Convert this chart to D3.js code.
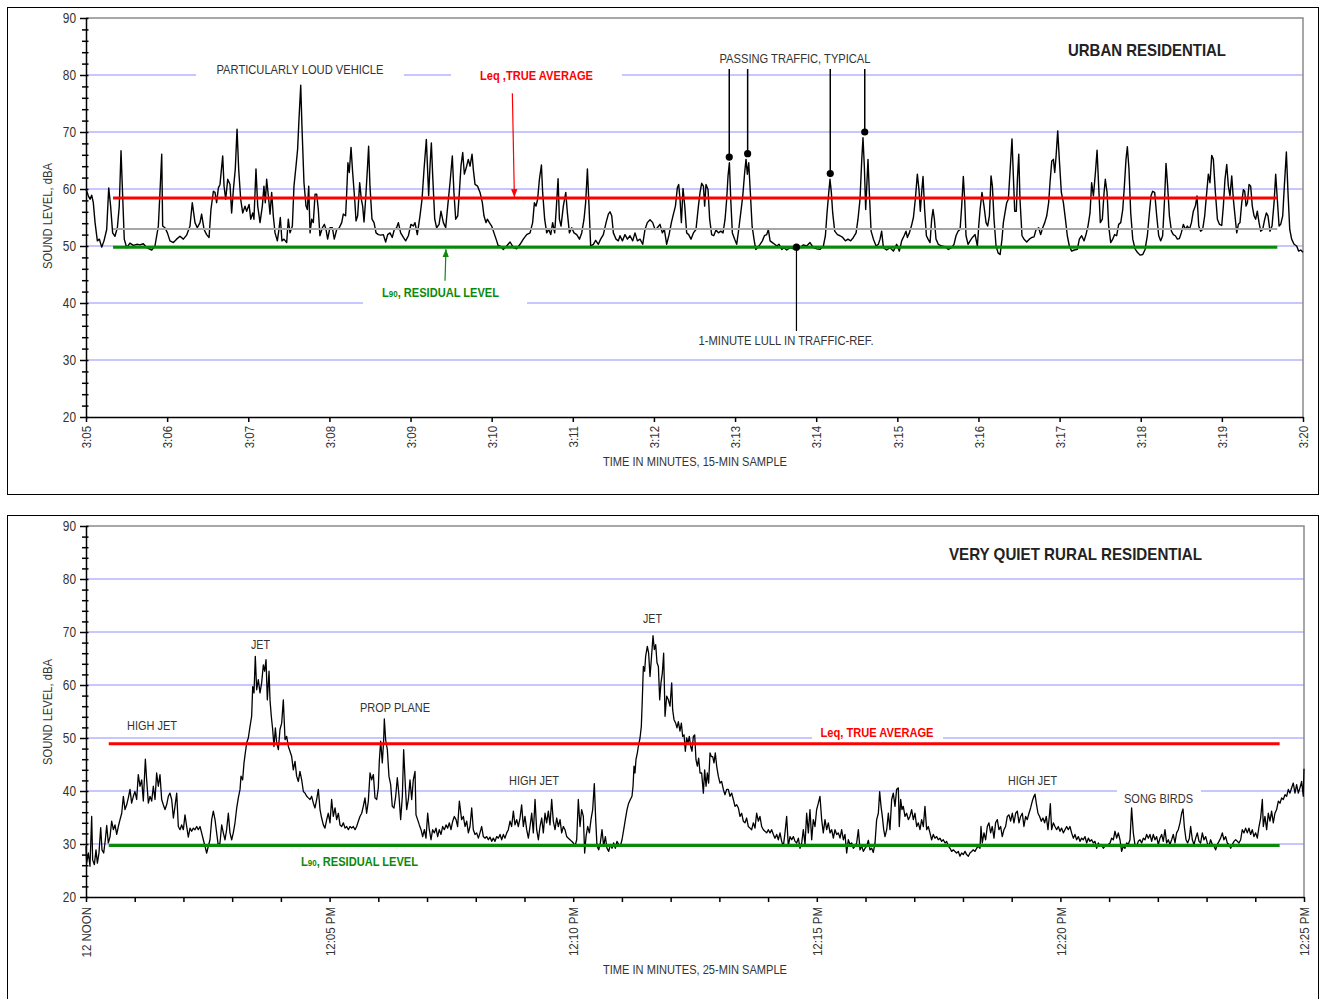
<!DOCTYPE html>
<html><head><meta charset="utf-8">
<script src="https://cdn.jsdelivr.net/npm/d3@7"></script>
<style>
body{margin:0;background:#fff;}
svg{display:block;font-family:"Liberation Sans",Arial,sans-serif;}
</style></head><body>
<svg id="chart" width="1325" height="999"></svg>
<script>
// ---------- DATA (time in seconds from start, level in dBA) ----------
const urbanTrace = [[0,60],[1.7,58.8],[3,58.2],[4.2,58.9],[5.4,57.6],[6.7,54.1],[8.4,50.9],[9.9,51.2],[11.6,49.8],[13.3,50.9],[15.3,52.9],[16.8,60.2],[18.2,57],[19.7,52.3],[21.4,51.7],[23.2,53.2],[24.6,57],[25.9,66.7],[27.1,58.8],[28.3,51.2],[30.1,49.7],[32.5,50.5],[35,50.1],[37.5,50.3],[39.9,50.2],[42.4,50.4],[44.9,49.7],[48.6,49.3],[51,50],[53.5,53.5],[54.7,59.4],[56,66.1],[56.7,53.5],[58.4,53.2],[60.2,52.3],[62.1,50.9],[64.6,50.6],[67,51.2],[69.5,51.7],[72,51.2],[74.4,51.9],[76.9,53.5],[78.6,57.6],[80.6,54.1],[82.3,53.2],[84.3,54.1],[85.5,55.6],[87.3,52.9],[89.2,52],[91,51.5],[92.4,56.4],[94.2,59.6],[95.4,59.4],[96.6,57.6],[97.9,60.2],[99.1,60.8],[101.1,65.8],[102.1,60.5],[103.3,58.2],[104.8,61.7],[106.5,60.8],[107.7,55.8],[109,59.9],[110.4,63.5],[111.7,70.5],[112.9,63.5],[114.4,58.2],[115.9,55.8],[117.6,57],[118.8,56.1],[120.6,57.3],[121.8,54.7],[123.3,55.8],[124.2,54.7],[125.7,63.5],[127,57],[128.7,54.1],[130.4,57],[131.6,60.5],[132.6,57.6],[133.6,61.7],[135.1,58.2],[136.1,55.6],[137.3,59.4],[138.5,55.3],[139.8,52.3],[141.5,50.9],[142.7,52.9],[143.7,55],[144.9,50.9],[146.4,51.2],[148.4,50.6],[149.6,54.7],[150.9,52.3],[152.6,53.5],[153.8,60.5],[155.3,64],[156.5,67],[157.5,72.2],[158.8,78.2],[159.7,71],[161.2,61.1],[162.7,57],[163.7,56.4],[164.7,60.5],[165.7,52.3],[166.9,54.7],[168.1,54.1],[169.4,59.1],[170.6,59.1],[171.8,56.4],[173,51.8],[174.8,53.2],[176.3,53.8],[177.5,52.9],[178.7,51.2],[180.4,53.2],[182.2,53.2],[183.6,51.2],[185.4,52.9],[187.3,53.2],[189.1,54.1],[190.3,55.6],[192,55.3],[192.8,59.4],[193.7,64.6],[194.7,62.9],[196,67.3],[197.2,62.9],[198.7,58.2],[199.7,54.4],[200.9,55.3],[202.4,61.1],[203.6,58.2],[204.6,57],[205.6,54.2],[206.8,58.2],[208.1,63.5],[209,67.5],[210,60.5],[211.5,54.7],[213,54.1],[214.5,52.3],[216.2,52],[217.9,51.9],[219.9,52],[221.6,50.7],[223.1,52],[224.8,52.3],[226.5,51.5],[228,52.9],[229.7,53.2],[231,54.1],[232.7,52.3],[234.7,51.5],[236.4,50.9],[238.4,51.8],[240.3,53.8],[242.1,53.5],[243.3,54.1],[245,52],[247,55.3],[248.5,58.2],[250,63.5],[251.7,68.7],[253.4,58.8],[254.4,64],[255.4,68.1],[256.4,62.3],[257.9,54.7],[259.3,53.2],[261.1,53.8],[262.5,56.1],[264.3,54.1],[266,53.2],[267.5,57],[269.2,61.1],[270.9,65.8],[272.1,59.4],[273.4,54.7],[274.9,55.3],[276.1,59.4],[277.3,64],[278.6,66.4],[279.8,62.6],[281.5,64],[282.7,65.2],[284,64],[285.5,66.1],[286.4,63.5],[287.7,60.8],[289.6,60.5],[291.4,59.4],[293.1,57.6],[294.3,55.3],[295.8,54.1],[296.8,54.7],[298.3,54.1],[300,53.5],[301.7,52.3],[303.7,50.9],[304.9,50],
[306.2,50],[308.6,49.4],[311.1,50],[313.6,50.7],[316.1,49.7],[318.5,49.5],[321,50.3],[323.4,51.2],[325.9,52],[328.4,52.3],[330.3,54.1],[331.6,57.6],[332.8,57],[334,58.2],[335.3,61.7],[336.8,64.2],[337.7,59.4],[339.2,54.7],[340.7,52.3],[342.2,52.9],[343.7,52],[345.1,54.1],[346.6,52.3],[347.9,57],[349.1,61.8],[350.1,54.7],[351.3,53.5],[353,57],[354.8,59.4],[356,55.8],[357.5,52.3],[359.2,53.2],[360.9,52.3],[362.9,52],[364.9,51.2],[366.6,52.3],[368.3,54.7],[369.5,57.6],[370.8,63.5],[372,57],[373.2,50],[375.2,50.3],[376.9,51],[378.9,50.3],[380.6,51.2],[382.6,52],[384.6,54.1],[386.3,55.6],[387.5,56],[388.8,55.3],[390,52.3],[392,51.2],[393.7,50.9],[394.9,51.8],[396.7,50.9],[398.6,52],[400.4,51.2],[402.3,51.8],[404.3,50.9],[406,52.3],[407.8,50.9],[409.7,51.2],[411.7,50.3],[413.4,52.9],[415.1,54.1],[417.1,54.6],[419.1,54.1],[420.8,52.9],[422.5,53.2],[424.5,53.8],[426.2,52.3],[427.7,52.9],[429.4,50.3],[431.2,52],[432.9,54.1],[434.4,55.6],[435.9,57],[437.3,60.2],[438.3,60.8],[439.3,58.2],[440.3,54.1],[441.5,60.1],[442.8,57],[444.2,52.3],[445.7,52],[447.4,51.2],[449.2,52.3],[451.1,52.9],[452.9,57],[454.1,59.4],[455.3,61],[456.6,60.5],[457.5,57],[458.5,60.8],[460,59.9],[461.2,54.7],[462.7,52],[464.2,51.8],[465.9,52.8],[467.7,52.3],[469.4,52.6],[471.1,52.3],[472.6,54.7],[473.8,58.2],[474.8,62.3],[475.8,64.6],[476.8,58.2],[478,52.3],[479.7,51.2],[481.2,50.3],[482.7,52.9],[484.2,55.8],[485.7,58.8],[487.1,62.9],[488.1,65.2],[489.1,62.6],[490.1,64.6],[491.3,59.4],[492.6,53.5],[494,51.2],[495.3,49.4],[496.7,49.7],[498.5,50.3],[500.2,50.9],[501.7,51.8],[503.4,52],[504.6,52.9],[505.9,50.9],[507.6,50.6],[509.3,50.3],[510.8,50],[512.5,50.3],[514.5,49.4],[516.2,49.7],[518.2,49.3],[520.7,49.7],[523.1,49.5],[525.6,50],[528,49.7],[530.5,50.2],[533,50],[535.4,50.6],[537.9,49.7],[540.4,49.5],[542.8,49.4],[545.3,50],[546.8,51.8],[548,55.8],[549.3,59.4],[550.2,61.7],[551.2,59.4],[552.2,55.8],[553.7,52.6],[555.7,52],[557.6,51.8],[559.6,51.5],[561.6,50.9],[563.5,51.2],[565.5,50.9],[567.5,51.5],[569.5,52.3],[570.9,54.7],[572.4,58.2],[573.7,65.2],[574.6,69],[575.6,64],[576.6,56.4],[577.4,60.5],[578.3,65.2],[579.3,59.4],[580.6,52.6],[582.3,51.2],[584.3,50],[586,50.3],[587.2,51.2],[588.4,52.6],[589.7,49.7],[592.1,49.3],[594.6,49.7],[597.1,49.1],[599.5,50.3],
[601.5,49.1],[603.2,50.9],[605,51.8],[606.4,52.6],[607.4,51.5],[608.9,52.3],[610.4,53.5],[611.9,55],[613.3,58.2],[614.8,62.6],[616,59.9],[617,56.1],[618,59.4],[619,62.2],[620.2,56.4],[621.5,51.8],[622.7,51.2],[624.2,50.6],[625.4,54.7],[626.4,56.4],[627.4,54.7],[628.6,51.2],[630.3,50.3],[632.8,50],[635.3,49.9],[637.7,49.4],[640.2,49.7],[641.9,50.3],[643.4,51.8],[644.9,52.6],[646.4,52.9],[647.6,57],[648.8,62.2],[649.8,58.2],[650.8,51.8],[652.3,50.3],[653.8,50.9],[655.5,51.5],[657.5,52],[659.2,50],[660.2,53.5],[661.2,56.4],[662.6,59.4],[664.1,57],[665.6,54.1],[666.8,53.5],[668.1,55.3],[669.3,62.3],[670.3,60.5],[671.5,54.7],[673,50],[674.5,48.8],[676,48.5],[677.4,51.2],[678.4,54.1],[679.6,55.8],[680.9,57.6],[682.1,58.2],[683.3,62.9],[684.8,68.8],[685.8,62.3],[686.8,56.1],[688,56.1],[688.8,61.7],[689.8,66.1],[690.7,58.2],[692.2,51.8],[693.7,51.2],[695.7,50.7],[697.6,51.2],[699.4,51.5],[701.1,51.6],[702.6,52.9],[704.5,53.2],[706,52],[707.5,53.2],[709,54.1],[710.5,55.3],[711.9,57.6],[712.9,61.1],[714.2,64.9],[715.4,65.2],[716.4,62.9],[717.4,65.8],[718.6,70.2],[719.8,65.2],[721.3,59.4],[722.8,57.6],[724.3,54.7],[725.7,51.8],[727.2,50],[728.9,49.1],[730.9,49.3],[733.1,49.4],[734.6,51.2],[736.3,51.8],[738.1,50.9],[739.5,52],[741,53.5],[742.5,55.8],[743.7,61.1],[745,58.8],[746.5,62.9],[747.7,66.8],[748.9,60.5],[750.1,54.1],[751.6,54.7],[752.9,59.4],[753.8,61.7],[755.1,59.4],[756.3,53.5],[757.8,50.6],[759.3,51.2],[760.7,52],[762.2,51.8],[763.7,53.8],[765.2,54.1],[766.7,56.4],[767.9,60.5],[769.1,65.2],[770.1,67.4],[771.3,63.5],[772.6,55.8],[774.1,51.2],[775.8,49.5],[777.5,48.9],[779.5,48.4],[781.5,48.5],[783.2,49.4],[784.9,51.8],[786.4,55.8],[787.6,58.8],[788.8,59.6],[790.3,59.4],[791.8,55.3],[793.3,51.8],[794.8,50.9],[796.2,51.8],[797.5,57.6],[798.7,64.5],[799.9,60.5],[801.2,55.3],[802.7,52.6],[804.1,52],[805.6,51.8],[807.1,51.2],[808.6,51.3],[810,52.3],[811.5,53.8],[813,52.9],[814.5,53.5],[816,52.9],[817.5,54.1],[818.9,56.1],[820.4,57],[821.6,58.8],[822.9,53.5],[824.3,52.6],[825.8,52.9],[827.3,55.3],[828.8,59.4],[830,62.6],[831.2,61.1],[832.5,65.9],[833.7,65.2],[835.2,59.4],[836.7,54.7],[838.2,53.8],[839.9,53.6],[841.1,57],[842.3,61.7],[843.6,64.3],[844.8,60.5],[846,58.8],[847.3,62.3],[848.5,58.2],[849.7,55.3],[851,52.3],[852.2,53.8],[853.4,54.1],[854.7,57.6],[855.9,59.9],[856.9,59.6],[857.9,57],[858.9,57.6],[860.1,60.8],[861.3,60.5],[862.5,57],[863.8,55.3],[865,54.7],[866.2,56.1],[867.5,54.1],[868.7,52.6],[870.2,52.9],[871.7,54.7],[872.9,55.8],[874.1,55.3],[875.6,52.6],[877.1,53.5],[878.6,57.6],[879.8,62.6],[881,58.2],[882.3,53.5],[883.5,53.8],[885,55.3],[886.2,60.5],[887.7,66.5],[888.9,59.4],[890.2,52.9],[891.6,51.2],[893.4,50.3],[895.3,50],[896.8,49.1],[898.3,49.3],[900,48.9]];
const urbanTickLabels = ["3:05","3:06","3:07","3:08","3:09","3:10","3:11","3:12","3:13","3:14","3:15","3:16","3:17","3:18","3:19","3:20"];
const urbanLeq = 58.4, urbanL50 = 53.0, urbanL90 = 49.8;
const urbanRefSpan = [20, 881];
const trafficPeaks = [[475.7,65.6],[489.3,66.2],[550.4,62.7],[575.9,70.0]];
const lullPoint = [525.4, 49.8];

const ruralTrace = [[0,29.6],[0.8,26.4],[2.9,28.3],[4.9,25.8],[7,35.2],[8.2,27],[10.3,26.1],[12.3,28.9],[14,26.4],[16,28.3],[18.1,33.1],[19.7,28.9],[21.8,28.3],[23.8,30.8],[25.5,33.5],[27.5,30.2],[29.6,31.4],[31.6,34.3],[33.7,32.7],[35.7,33.6],[37.8,31.8],[39.8,33.3],[41.9,34.6],[44,35.8],[46,39],[48,36.5],[50.1,37.4],[52.1,38.7],[54.2,40.3],[56.2,37.7],[58.3,39],[60.3,39.9],[62.4,38.4],[64.4,43.1],[66.5,40.9],[68.6,42.1],[70.6,38.1],[73.1,46],[74.7,42.1],[76.8,37.7],[78.8,39],[80.9,38.1],[82.9,40.9],[85,38.4],[87,43.4],[89.1,40.9],[91.1,43.1],[93.2,38.4],[95.2,37.4],[97.3,36.5],[99.3,37.4],[101.4,39],[103.4,39.6],[105.5,38.4],[107.6,34.9],[109.6,37.1],[111.7,39.6],[113.7,33.3],[115.8,32.7],[117.8,33.6],[119.9,32.7],[121.9,35.5],[124,33.3],[126,31.3],[128.1,33],[130.1,32.4],[132.2,33],[134.2,32.7],[136.3,33.3],[138.3,32.7],[140.4,33.3],[142.4,32.1],[144.5,30.8],[146.5,29.6],[148.6,28.3],[150.7,29.6],[152.7,30.8],[154.8,34.6],[156.8,36.2],[158.9,34.6],[160.9,32.1],[163,29.6],[165,30.2],[167.1,33.6],[169.1,32.1],[171.2,30.8],[173.2,32.7],[175.3,35.8],[177.3,32.1],[179.4,30.8],[181.4,32.1],[183.5,34],[185.6,36.8],[187.6,38.7],[189.7,40.3],[190.9,42.8],[192.9,42.1],[194.6,45.3],[196.2,47.2],[197.9,49.1],[199.9,50],[202,52.2],[204,54.1],[205.3,59.7],[206.9,58.5],[208.5,65.4],[210.2,59.1],[212.2,61],[214.3,58.5],[216.3,60.4],[218.4,63.8],[220,62.6],[221.7,64.8],[223.3,57.2],[225.4,62.6],[226.6,57.2],[228.2,54.1],[229.9,51.6],[231.5,48.4],[233.2,51.9],[234.8,49.1],[236.9,47.8],[238.9,51.6],[241,52.8],[243,57.2],[245.1,49.7],[247.1,50.3],[249.2,48.4],[251.2,47.5],[253.3,46.5],[255.3,44],[257.4,45.6],[259.4,42.8],[261.5,41.8],[263.5,43.7],[265.6,42.1],[267.7,39.9],[269.7,39.6],[271.8,39],[273.8,38.7],[275.9,38.4],[277.9,39],[280,37.7],[282,36.8],[284.1,38.4],[286.1,40.3],[288.2,36.5],[290.2,34.9],[292.3,33.6],[294.3,33],[296.4,34.6],[298.4,35.8],[300.5,34],[302.5,38.4],[304.6,35.2],[306.7,36.8],[308.7,34.6],[310.8,35.8],[312.8,33.6],[314.9,33.3],[316.9,34],[319,33],[321,33.3],[323.1,32.7],[325.1,33.3],[327.2,33],[329.2,33.3],[331.3,32.7],[333.3,33.3],[335.4,34.3],[337.4,35.2],[339.5,35.8],[341.5,37.1],[343.6,38.7],[345.6,35.8],[347.7,38.1],[349.8,43.4],[351.8,42.1],[353.9,43.1],[355.9,38.7],[358,38.4],[360,40.6],[361.2,45.6],[362.9,49.4],[364.9,45.3],[366.6,49.7],[367.4,53.6],[369,49.7],[371.1,47.8],[373.1,42.8],[375.2,41.2],[377.2,37.1],[379.3,36.8],[381.4,39],[383.4,42.5],[385.5,39],[387.5,34.6],[389.6,39],[391.2,47.8],[393.3,40.9],[394.9,36.5],[397,38.4],[399,42.1],[401.1,38.4],[403.1,42.1],[405.2,43.7],[406.4,35.5],[408.4,34.6],[410.5,33.6],[412.6,32.7],[414.6,31.4],[416.7,32.7],[418.7,31.1],[420.8,35.8],[422.8,32.7],[424.9,30.8],[426.9,32.7],[429,32.1],[431,33],[433.1,31.4],[435.1,32.7],[437.2,31.8],[439.2,33.3],[441.3,32.7],[443.4,33.6],[445.4,33],[447.5,34],[449.5,32.7],[451.6,34.3],[453.6,35.2],[455.7,34.6],[457.7,33.3],[459.8,38.1],
[462.6,34.6],[464.7,35.2],[466.8,33.3],[468.8,34.3],[470.9,32.1],[472.9,33.3],[475,36.8],[477,32.7],[479.1,31.8],[481.1,32.1],[483.2,31.1],[485.2,32.1],[487.3,33.3],[489.3,31.4],[491.4,31.1],[493.4,31.4],[495.5,30.8],[497.5,31.3],[499.6,30.5],[501.6,31.1],[503.7,30.5],[505.8,31.4],[507.8,31.1],[509.9,31.8],[511.9,30.8],[514,31.8],[516,31.1],[518.1,32.1],[520.1,32.7],[522.2,34.3],[524.2,33.3],[526.3,36.2],[528.3,33.6],[530.4,34.6],[532.4,33.3],[534.5,34.9],[536.5,37.4],[538.6,33.3],[540.6,35.2],[542.7,32.7],[544.8,31.1],[546.8,33.3],[548.9,35.8],[550.9,32.1],[553,38.4],[555,32.7],[557.1,30.8],[559.1,33.3],[561.2,34.9],[563.2,32.1],[565.3,35.8],[567.3,34],[569.4,36.2],[571.4,33.6],[573.5,38.4],[575.5,34.3],[577.6,32.7],[579.7,34.9],[581.7,33.3],[583.8,34.6],[585.8,32.1],[587.9,33.3],[589.9,32.7],[592,31.4],[594,31.1],[596.1,30.8],[598.1,30.5],[600.2,30.2],[602.2,29.6],[604.3,30.8],[606.3,38.4],[608.4,33.3],[610.4,36.5],[612.5,35.2],[614.1,28.3],[615.8,31.4],[617.8,33.3],[619.9,32.1],[621.9,34.6],[624,36.5],[626,41.4],[627.7,34.6],[629.3,29.6],[631.4,28.9],[633.4,30.2],[635.5,32.7],[637.5,29.6],[639.6,31.4],[641.6,29.2],[643.7,28.6],[645.7,29.9],[647.8,29.2],[649.8,30.2],[651.9,29.2],[653.9,30.5],[656,29.9],[658,29.6],[660.1,30.8],[662.2,32.7],[664.2,34.6],[666.3,36.5],[668.3,37.7],[670.4,38.4],[672.4,39],[673.7,40.9],[674.9,44.7],[676.1,43.4],[677.3,45.9],[679,47.2],[680.2,48.4],[682.3,50],[683.9,52.2],[685.1,57.2],[686.4,63.5],[688,62.6],[689.2,65.4],[691.3,67.3],[692.9,66],[694.6,61.6],[696.2,64.8],[698.3,69.3],[699.9,66.7],[701.6,67.6],[703.2,64.2],[704.9,63.5],[706.5,57.2],[708.1,60.4],[709.8,62.3],[711.4,66],[713.1,54.1],[715.1,57.9],[717.2,57.2],[719.2,56],[721.3,60.4],[722.5,55.3],[724.1,53.5],[726.2,52.8],[727.8,51.9],[729.5,53.1],[731.5,51.3],[733.2,52.8],[734.8,50.3],[736.5,50.6],[738.1,47.5],[739.7,50],[741.4,49.1],[743,50.3],[744.7,48.4],[746.3,47.5],[748,50.3],[749.6,50.6],[751.2,45.9],[752.9,44.7],[754.5,46.2],[756.2,43.4],[758.2,43.4],[760.3,39.6],[761.9,44],[763.6,40.9],[765.2,43.4],[766.8,41.5],[768.5,47.2],[770.1,46.5],[771.8,46.5],[773.4,45.3],[775,47.2],[776.7,44.7],[778.7,42.8],[780.8,41.5],[782.8,41.8],[784.9,40.3],[786.9,39.3],[789,40.3],[791,40.3],[793.1,39],[795.2,39.6],[797.2,38.4],[799.3,37.1],[801.3,37.4],[803.4,36.8],[805.4,35.2],[807.5,35.8],[809.5,34.3],[811.6,34],[813.6,34.9],[815.7,33.3],[817.7,33],[819.8,32.7],[821.8,34],[823.9,33],[825.9,35.8],[828,34.3],[830,35.2],[832.1,33.3],[834.2,32.7],[836.2,32.4],[838.3,32.1],[840.3,32.7],[842.4,32.1],[844.4,32.7],[846.5,31.8],[848.5,31.1],[850.6,31.8],[852.6,30.8],[854.7,32.1],[856.7,30.5],[858.8,29.6],[860.8,32.1],[862.9,35.2],[864.9,29.6],[867,31.4],[869.1,30.8],[871.1,31.4],[873.2,30.5],[875.2,30.2],[877.3,31.1],[879.3,29.2],[881.4,30.2],[883.4,32.7],[885.5,29.9],[887.5,35.8],[889.6,32.1],[891.6,36.5],[893.7,30.8],[895.7,34.6],[897.8,33.3],[899.8,36.5],[901.9,37.7],[903.9,39],[906,34.6],[908,32.1],[910.1,34.6],[912.2,32.7],[914.2,34],[916.3,32.1],[918.3,32.7],[920.4,31.1],[922.4,32.7],[924.5,31.8],[926.5,32.1],[928.6,31.1],[930.6,32.7],[932.7,30.8],[934.7,31.8],[936.8,28.3],[938.8,30.8],[940.9,29.9],[942.9,30.2],[945,29.2],[947,29.6],[949.1,30.2],[951.2,32.7],[953.2,28.9],[955.3,29.6],[957.3,28.6],[959.4,29.2],[961.4,29.6],[963.5,30.7],[965.5,28.9],[967.6,29.2],[969.6,28.4],[971.7,30.2],[973.7,34.6],[975.8,35.8],[977.4,39.9],[979.1,37.1],[980.7,35.2],[982.4,32.7],[984,31.4],[986.1,32.7],[988.1,35.8],
[990.1,32.7],[992.2,38.4],[994.2,39.6],[996.3,37.1],[998.3,40.3],[1000.4,40.6],[1001.6,33.3],[1003.3,38.4],[1004.9,36.5],[1006.5,37.1],[1008.6,35.2],[1010.6,35.8],[1012.7,34.6],[1014.7,35.2],[1016.8,36.5],[1018.9,34.6],[1020.9,35.8],[1023,33.3],[1025,34],[1027.1,32.7],[1029.1,34.6],[1031.2,33.3],[1033.2,37.1],[1035.3,32.7],[1037.3,33.3],[1039.4,32.1],[1041.4,30.8],[1043.5,31.8],[1045.5,31.1],[1047.6,31.4],[1049.6,30.8],[1051.7,31.1],[1053.7,30.5],[1055.8,30.8],[1057.9,30.2],[1059.9,30.5],[1062,29.6],[1064,29.2],[1066.1,28.6],[1068.1,28.9],[1070.2,28.6],[1072.2,28.3],[1074.3,28.6],[1076.3,27.7],[1078.4,28.3],[1080.4,28],[1082.5,28.6],[1084.5,28],[1086.6,27.7],[1088.6,28.3],[1090.7,28.6],[1092.7,28.9],[1094.8,28.6],[1096.9,29.2],[1098.9,29.6],[1101,29.2],[1102.2,33.3],[1103.8,30.2],[1105.9,32.1],[1107.9,30.8],[1110,33.3],[1112,34],[1114.1,32.1],[1116.1,33.3],[1118.2,31.1],[1120.2,34],[1122.3,34.6],[1124.3,32.7],[1126.4,33.3],[1128.4,31.4],[1130.5,32.7],[1132.5,33.3],[1134.6,35.2],[1136.7,35.5],[1138.7,34.3],[1140.8,35.8],[1142.8,34],[1144.9,35.8],[1146.9,36.2],[1149,34],[1151,35.2],[1153.1,35.8],[1155.1,33.3],[1157.2,35.2],[1159.2,34.6],[1161.3,35.8],[1163.3,36.8],[1165.4,38.1],[1167.4,39],[1168.7,39.4],[1170.3,37.7],[1172.4,35.8],[1174.4,35.2],[1176.5,34.3],[1178.5,34.9],[1180.6,34],[1182.6,35.2],[1184.7,32.7],[1186.7,35.8],[1187.6,37.6],[1189.2,32.7],[1191.3,34],[1193.3,33.3],[1195.4,32.7],[1197.4,33.3],[1199.5,32.4],[1201.5,33],[1203.6,32.1],[1205.6,32.7],[1207.7,33.3],[1209.7,32.7],[1211.8,33.3],[1213.8,32.1],[1215.9,31.1],[1217.9,31.8],[1220,30.8],[1222.1,31.4],[1224.1,30.5],[1226.2,31.1],[1228.2,30.8],[1230.3,31.4],[1232.3,30.2],[1234.4,31.1],[1236.4,30.5],[1238.5,30.8],[1240.5,30.2],[1242.6,30.5],[1244.6,29.2],[1246.7,30.2],[1248.7,29.6],[1250.8,29.9],[1252.8,29.2],[1254.9,29.6],[1256.9,29.6],[1259,29.9],[1261.1,30.2],[1263.1,31.1],[1265.2,30.8],[1267.2,32.4],[1269.3,31.1],[1271.3,32.1],[1273.4,30.8],[1275.4,28.6],[1277.5,29.6],[1279.5,29.2],[1281.6,30.2],[1283.6,29.9],[1285.7,30.8],[1287.7,36.8],[1289.8,32.1],[1291.8,29.9],[1293.9,29.6],[1295.9,30.5],[1298,30.8],[1300,30.2],[1302.1,31.1],[1304.2,30.8],[1306.2,31.8],[1308.3,31.1],[1310.3,31.8],[1312.4,30.5],[1314.4,31.8],[1316.5,30.8],[1318.5,31.4],[1320.6,29.9],[1322.6,31.1],[1324.7,31.8],[1326.7,30.5],[1328.8,32.7],[1330.8,30.2],[1332.9,30.8],[1334.9,29.9],[1337,30.8],[1339,31.8],[1341.1,30.2],[1343.1,32.1],[1345.2,32.7],[1347.3,34],[1349.3,35.8],[1351,36.6],[1352.6,33.3],[1354.7,30.8],[1356.7,30.2],[1358.8,31.1],[1360.4,33.3],[1362.5,30.8],[1364.5,29.9],[1366.6,31.1],[1368.6,32.1],[1370.7,30.5],[1372.7,30.2],[1374.8,32.1],[1376.8,30.8],[1378.9,31.4],[1380.9,30.2],[1383,29.6],[1385,30.8],[1387.1,29.9],[1389.1,29.6],[1391.2,28.9],[1393.2,29.9],[1395.3,30.5],[1397.3,31.1],[1399.4,32.1],[1401.4,30.8],[1403.5,31.4],[1405.5,30.2],[1407.6,29.9],[1409.7,29.2],[1411.7,29.9],[1413.8,30.5],[1415.8,30.8],[1417.9,30.5],[1419.9,30.2],[1422,30.8],[1424,32.7],[1426.1,32.1],[1428.1,33],[1430.2,32.1],[1432.2,33],[1434.3,31.8],[1436.3,32.7],[1438.4,31.4],[1440.5,32.1],[1442.5,31.1],[1444.6,33.3],[1446.6,34.9],[1448.7,38.4],[1449.9,33.3],[1451.9,35.2],[1454,32.7],[1456,35.8],[1458.1,34.3],[1460.1,36.2],[1462.2,34],[1464.2,35.8],[1466.3,36.5],[1468.4,38.1],[1470.4,37.7],[1472.5,38.7],[1474.5,38.4],[1476.6,39.3],[1478.6,39],[1480.7,40.3],[1482.7,39.6],[1484.8,40.6],[1486.8,41.5],[1488.9,39.6],[1490.9,41.2],[1493,39.6],[1495,40.6],[1497.1,41.8],[1499.1,39],[1500,44.2]];
const ruralTickLabels = ["12 NOON","12:05 PM","12:10 PM","12:15 PM","12:20 PM","12:25 PM"];
const ruralLeq = 48.9, ruralL90 = 29.7;
const ruralRefSpan = [28, 1470];

// ---------- DRAWING ----------
const svg = d3.select("#chart");
const TXT = "#333";
const GRID = "#8f8fff";
const RED = "#ff0000";
const GREEN = "#0a8a0a";
const NARROW = 0.85; // Arial-Narrow-like horizontal compression for tick labels

const defs = svg.append("defs");
function arrowMarker(id, color) {
  defs.append("marker").attr("id", id).attr("viewBox", "0 0 10 10").attr("refX", 10).attr("refY", 5)
    .attr("markerWidth", 8).attr("markerHeight", 8).attr("markerUnits", "userSpaceOnUse").attr("orient", "auto")
    .append("path").attr("d", "M0,1L10,5L0,9Z").attr("fill", color);
}
arrowMarker("arRed", RED);
arrowMarker("arGreen", GREEN);

function label(g, txt, cx, base, opt = {}) {
  const t = g.append("text").attr("x", cx).attr("y", base).attr("text-anchor", "middle")
    .attr("font-size", opt.size || 13).attr("fill", opt.fill || TXT)
    .attr("font-weight", opt.weight || "normal");
  if (opt.sub) {
    t.append("tspan").text(txt[0]);
    t.append("tspan").attr("font-size", (opt.size || 13) * 0.72).text(txt[1]);
    t.append("tspan").text(txt[2]);
  } else t.text(txt);
  if (opt.width) t.attr("textLength", opt.width).attr("lengthAdjust", "spacingAndGlyphs");
  return t;
}

function panel(cfg) {
  const g = svg.append("g");
  g.append("rect").attr("x", cfg.frame[0]).attr("y", cfg.frame[1]).attr("width", cfg.frame[2]).attr("height", cfg.frame[3])
    .attr("fill", "#fff").attr("stroke", "#000").attr("stroke-width", 1);

  const x = d3.scaleLinear().domain([0, cfg.duration]).range([cfg.left, cfg.right]);
  const y = d3.scaleLinear().domain([20, 90]).range([cfg.bottom, cfg.top]);

  g.append("g").selectAll("line").data(d3.range(30, 90, 10)).join("line")
    .attr("x1", cfg.left).attr("x2", cfg.right).attr("y1", d => y(d)).attr("y2", d => y(d))
    .attr("stroke", GRID).attr("stroke-width", 1);
  g.append("path").attr("d", `M${cfg.left},${y(90)}H${cfg.right}V${y(20)}`)
    .attr("fill", "none").attr("stroke", "#8a8a8a").attr("stroke-width", 1.5);

  cfg.boxes.forEach(b => {
    g.append("rect").attr("x", b[0]).attr("width", b[1] - b[0]).attr("y", y(b[2]) - 3).attr("height", 6).attr("fill", "#fff");
  });

  const line = d3.line().x(d => x(d[0])).y(d => y(d[1]));
  g.append("path").datum(cfg.trace).attr("d", line).attr("fill", "none")
    .attr("stroke", "#000").attr("stroke-width", cfg.lineWidth).attr("stroke-linejoin", "round");

  cfg.refs.forEach(r => {
    g.append("line").attr("x1", x(cfg.span[0])).attr("x2", x(cfg.span[1]))
      .attr("y1", y(r.v)).attr("y2", y(r.v)).attr("stroke", r.color).attr("stroke-width", r.w);
  });

  const yMajor = d3.range(20, 91, 10);
  const yMinor = d3.range(20, 91, 2).filter(v => v % 10 !== 0);
  const ya = g.append("g").attr("transform", `translate(${cfg.left},0)`)
    .call(d3.axisLeft(y).tickValues(yMajor).tickSize(6).tickSizeOuter(0).tickPadding(4));
  ya.attr("font-family", null);
  ya.selectAll(".tick line").attr("x1", 2.5).attr("stroke-width", 1.5);
  ya.selectAll(".tick text").attr("font-size", 14).attr("fill", TXT);
  ya.select(".domain").attr("stroke-width", 1.5);
  const ym = g.append("g").attr("transform", `translate(${cfg.left},0)`)
    .call(d3.axisLeft(y).tickValues(yMinor).tickSize(4).tickFormat(""));
  ym.select(".domain").remove();
  ym.selectAll(".tick line").attr("x1", 2.5).attr("stroke-width", 1.5);

  const xa = g.append("g").attr("transform", `translate(0,${cfg.bottom})`)
    .call(d3.axisBottom(x).tickValues(cfg.xTicks).tickSize(5).tickSizeOuter(0).tickFormat(cfg.xFormat));
  xa.attr("font-family", null);
  xa.select(".domain").attr("stroke-width", 1.5);
  xa.selectAll(".tick line").attr("stroke-width", 1.5);
  xa.selectAll(".tick text").attr("transform", "rotate(-90)").attr("text-anchor", "end")
    .attr("x", -cfg.xLabelGap).attr("y", 0).attr("dy", "0.35em")
    .attr("font-size", cfg.xLabelSize).attr("fill", TXT);

  g.append("text").attr("transform", `translate(52,${cfg.yTitleY}) rotate(-90)`).attr("text-anchor", "middle")
    .attr("font-size", 13).attr("fill", TXT).attr("textLength", 106).attr("lengthAdjust", "spacingAndGlyphs")
    .text("SOUND LEVEL, dBA");
  label(g, cfg.xTitle, 695, cfg.xTitleY, { size: 13, width: 184 });

  return { g, x, y };
}

// ---------- TOP PANEL ----------
const urbanPanel = panel({
  frame: [7.5, 7.5, 1311, 487], left: 86, right: 1303, top: 18, bottom: 417, duration: 900,
  trace: urbanTrace, lineWidth: 1.4, span: urbanRefSpan,
  refs: [{ v: urbanL50, color: "#a6a6a6", w: 2 }, { v: urbanL90, color: GREEN, w: 3 }, { v: urbanLeq, color: RED, w: 3 }],
  boxes: [[196, 404, 80], [451, 622, 80], [363, 527, 40]],
  xTicks: d3.range(0, 901, 60), xFormat: (d, i) => urbanTickLabels[i], xLabelGap: 9, xLabelSize: 13.5,
  yTitleY: 216, xTitle: "TIME IN MINUTES, 15-MIN SAMPLE", xTitleY: 466
});
{
  const { g, x, y } = urbanPanel;
  label(g, "PARTICULARLY LOUD VEHICLE", 300, 74, { width: 167 });
  label(g, "Leq ,TRUE AVERAGE", 536.5, 80, { width: 113, fill: RED, weight: "bold" });
  label(g, "PASSING TRAFFIC, TYPICAL", 795, 63, { width: 151 });
  label(g, ["L", "90", ", RESIDUAL LEVEL"], 440.5, 297, { width: 117, fill: GREEN, weight: "bold", sub: true });
  label(g, "1-MINUTE LULL IN TRAFFIC-REF.", 786, 345, { width: 175 });
  label(g, "URBAN RESIDENTIAL", 1147, 56, { width: 158, size: 17, weight: "bold", fill: "#222" });
  g.append("line").attr("x1", x(315.3)).attr("y1", y(76.8)).attr("x2", x(316.8)).attr("y2", y(urbanLeq) - 1)
    .attr("stroke", RED).attr("stroke-width", 1.2).attr("marker-end", "url(#arRed)");
  g.append("line").attr("x1", x(265.5)).attr("y1", y(43.9)).attr("x2", x(266.2)).attr("y2", y(urbanL90) + 2)
    .attr("stroke", GREEN).attr("stroke-width", 1.2).attr("marker-end", "url(#arGreen)");
  g.append("g").selectAll("line").data(trafficPeaks).join("line")
    .attr("x1", d => x(d[0])).attr("x2", d => x(d[0])).attr("y1", 69).attr("y2", d => y(d[1]))
    .attr("stroke", "#000").attr("stroke-width", 1.5);
  g.append("g").selectAll("circle").data(trafficPeaks).join("circle")
    .attr("cx", d => x(d[0])).attr("cy", d => y(d[1])).attr("r", 3.6).attr("fill", "#000");
  g.append("line").attr("x1", x(lullPoint[0])).attr("x2", x(lullPoint[0])).attr("y1", y(lullPoint[1])).attr("y2", 331)
    .attr("stroke", "#000").attr("stroke-width", 1.2);
  g.append("circle").attr("cx", x(lullPoint[0])).attr("cy", y(lullPoint[1])).attr("r", 3.6).attr("fill", "#000");
}

// ---------- BOTTOM PANEL ----------
const ruralPanel = panel({
  frame: [7.5, 515.5, 1311, 500], left: 86, right: 1304, top: 526, bottom: 897, duration: 1500,
  trace: ruralTrace, lineWidth: 1.3, span: ruralRefSpan,
  refs: [{ v: ruralL90, color: GREEN, w: 3 }, { v: ruralLeq, color: RED, w: 3 }],
  boxes: [[812, 943, 50], [1117, 1201, 40]],
  xTicks: d3.range(0, 1501, 60), xFormat: d => (d % 300 === 0 ? ruralTickLabels[d / 300] : ""), xLabelGap: 10, xLabelSize: 13.5,
  yTitleY: 712, xTitle: "TIME IN MINUTES, 25-MIN SAMPLE", xTitleY: 974
});
{
  const { g } = ruralPanel;
  label(g, "HIGH JET", 152, 730, { width: 50 });
  label(g, "JET", 260.5, 649, { width: 19 });
  label(g, "PROP PLANE", 395, 712, { width: 70 });
  label(g, "HIGH JET", 534, 785, { width: 50 });
  label(g, "JET", 652.5, 623, { width: 19 });
  label(g, "Leq, TRUE AVERAGE", 877, 737, { width: 113, fill: RED, weight: "bold" });
  label(g, "HIGH JET", 1032.5, 785, { width: 49 });
  label(g, "SONG BIRDS", 1158.5, 803, { width: 69 });
  label(g, ["L", "90", ", RESIDUAL LEVEL"], 359.5, 866, { width: 117, fill: GREEN, weight: "bold", sub: true });
  label(g, "VERY QUIET RURAL RESIDENTIAL", 1075.5, 560, { width: 253, size: 17, weight: "bold", fill: "#222" });
}

// narrow the remaining (tick) labels to an Arial-Narrow-like width
svg.selectAll("text").each(function () {
  if (this.hasAttribute("textLength")) return;
  const w = this.getComputedTextLength();
  if (w > 0) {
    this.setAttribute("textLength", (w * NARROW).toFixed(1));
    this.setAttribute("lengthAdjust", "spacingAndGlyphs");
  }
});
</script>
</body></html>
